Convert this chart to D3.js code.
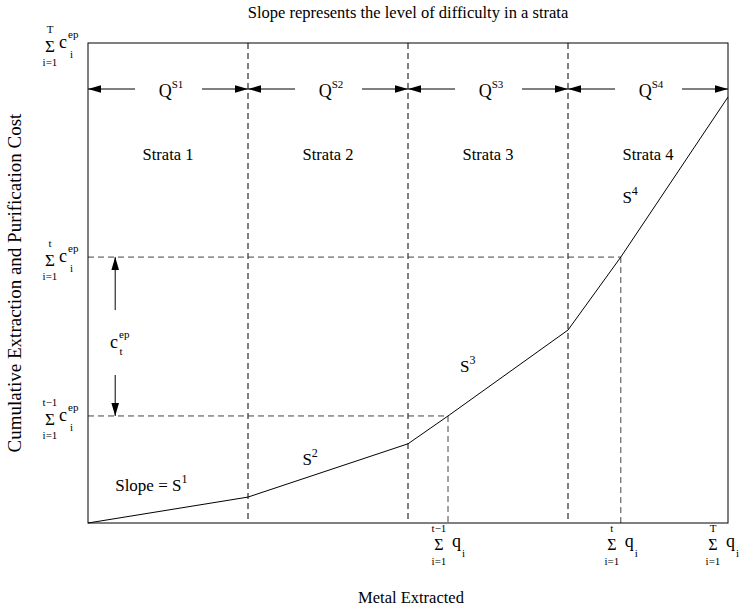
<!DOCTYPE html>
<html>
<head>
<script src="https://d3js.org/d3.v7.min.js"></script>
<title>Strata cost curve</title>
<style>
  body { margin: 0; background: #fff; }
  text { font-family: "Liberation Serif", "Times New Roman", serif; fill: #000; }
</style>
</head>
<body>
<div id="chart"></div>
<script>
// strata (x units = one stratum each)
var strataNames = ["Strata 1", "Strata 2", "Strata 3", "Strata 4"];
var strataBounds = [0, 1, 2, 3, 4];
var qSups = ["S1", "S2", "S3", "S4"];

// cumulative cost curve
var curveX = [0, 1, 2, 2.25, 3, 3.33, 4];
var curveY = [0, 5.4, 16.5, 22.3, 40.2, 55.4, 88.75];

// tick labels on both axes
var yTickVals = [100, 55.4, 22.3];
var yTickSups = ["T", "t", "t\u22121"];
var xTickVals = [2.25, 3.33, 4];
var xTickSups = ["t\u22121", "t", "T"];

// dashed guides: period t-1 and t (x, y)
var guideX = [2.25, 3.33];
var guideY = [22.3, 55.4];

// slope annotations (data coords)
var slopeX = [0.17, 1.34, 2.325, 3.34];
var slopeY = [6.7, 12.1, 31.5, 66.7];
var slopeText = ["Slope = S", "S", "S", "S"];
var slopeSup = ["1", "2", "3", "4"];

var W = 740, H = 612;
var svg = d3.select("#chart").append("svg")
    .attr("width", W)
    .attr("height", H);

var x = d3.scaleLinear().domain([0, 4]).range([88, 728]);
var y = d3.scaleLinear().domain([0, 100]).range([523, 43]);

function arrow(x1, y1, x2, y2) {
    svg.append("line")
        .attr("x1", x1).attr("y1", y1).attr("x2", x2).attr("y2", y2)
        .attr("stroke", "#000").attr("stroke-width", 1);
    var a = Math.atan2(y2 - y1, x2 - x1), L = 13, w = 3.8;
    var bx = x2 - L * Math.cos(a), by = y2 - L * Math.sin(a);
    var px = -Math.sin(a) * w, py = Math.cos(a) * w;
    svg.append("path")
        .attr("d", "M" + x2 + "," + y2 + "L" + (bx + px) + "," + (by + py) + "L" + (bx - px) + "," + (by - py) + "Z")
        .attr("fill", "#000");
}

function txt(px, py, s, size, anchor) {
    return svg.append("text")
        .attr("x", px).attr("y", py)
        .attr("font-size", size)
        .attr("text-anchor", anchor || "start")
        .text(s);
}

// one <text> holding several absolutely placed pieces
function stack(parts) {
    var t = svg.append("text");
    parts.forEach(function(p) {
        t.append("tspan")
            .attr("x", p[0]).attr("y", p[1])
            .attr("font-size", p[3])
            .attr("text-anchor", p[4] || "start")
            .text(p[2]);
    });
    return t;
}

// title and axis titles
txt(408, 18, "Slope represents the level of difficulty in a strata", 16.5, "middle");
txt(411, 603, "Metal Extracted", 16.5, "middle");
svg.append("text")
    .attr("transform", "translate(21,283) rotate(-90)")
    .attr("font-size", 19)
    .attr("text-anchor", "middle")
    .text("Cumulative Extraction and Purification Cost");

// strata separators
svg.selectAll(".sep").data(strataBounds.slice(1, 4)).enter()
    .append("line")
    .attr("x1", function(d) { return x(d); })
    .attr("x2", function(d) { return x(d); })
    .attr("y1", y(100)).attr("y2", y(0))
    .attr("stroke", "#000").attr("stroke-dasharray", "6,4");

// dashed guides for t-1 and t
guideX.forEach(function(xv, i) {
    var v = guideY[i];
    svg.append("line")
        .attr("x1", x(0)).attr("x2", x(xv))
        .attr("y1", y(v)).attr("y2", y(v))
        .attr("stroke", "#444").attr("stroke-dasharray", "6,4");
    svg.append("line")
        .attr("x1", x(xv)).attr("x2", x(xv))
        .attr("y1", y(v)).attr("y2", y(0))
        .attr("stroke", "#444").attr("stroke-dasharray", "6,4");
});

// frame
svg.append("rect")
    .attr("x", x(0)).attr("y", y(100))
    .attr("width", x(4) - x(0)).attr("height", y(0) - y(100))
    .attr("fill", "none").attr("stroke", "#000").attr("stroke-width", 1);

// curve
var line = d3.line()
    .x(function(d) { return x(d[0]); })
    .y(function(d) { return y(d[1]); });
svg.append("path")
    .datum(d3.zip(curveX, curveY))
    .attr("d", line)
    .attr("fill", "none").attr("stroke", "#000").attr("stroke-width", 1);

// Q arrows and strata names
strataNames.forEach(function(name, i) {
    var x0 = x(strataBounds[i]), x1 = x(strataBounds[i + 1]), cx = (x0 + x1) / 2;
    arrow(cx - 33, 89, x0, 89);
    arrow(cx + 34, 89, x1, 89);
    var t = svg.append("text").attr("x", cx + 3).attr("y", 97)
        .attr("font-size", 18).attr("text-anchor", "middle");
    t.append("tspan").text("Q");
    t.append("tspan").attr("font-size", 11).attr("dy", -9).text(qSups[i]);
    txt(cx, 160, name, 16.5, "middle");
});

// slope labels
slopeText.forEach(function(s, i) {
    var t = svg.append("text").attr("x", x(slopeX[i])).attr("y", y(slopeY[i]))
        .attr("font-size", 17);
    t.append("tspan").text(s);
    t.append("tspan").attr("font-size", 12).attr("dy", -8).text(slopeSup[i]);
});

// cost difference arrow c_t^ep
var ax = x(0.17);
arrow(ax, 310, ax, y(guideY[1]));
arrow(ax, 375, ax, y(guideY[0]));
stack([[110, 348, "c", 18], [119, 338, "ep", 11], [119.5, 355, "t", 11]]);

// y tick labels
yTickVals.forEach(function(v, i) {
    var ty = y(v);
    stack([
        [50, ty - 10, yTickSups[i], 11, "middle"],
        [50, ty + 9, "\u03a3", 17, "middle"],
        [50, ty + 23, "i=1", 11, "middle"],
        [59, ty + 5, "c", 18],
        [68, ty - 5, "ep", 11],
        [70, ty + 15, "i", 11]
    ]);
});

// x tick labels
xTickVals.forEach(function(v, i) {
    var tx = x(v);
    tx = tx + Math.min(0, 742 - (tx + 20));
    stack([
        [tx - 9, 532, xTickSups[i], 11, "middle"],
        [tx - 9, 550, "\u03a3", 16, "middle"],
        [tx - 9, 565, "i=1", 11, "middle"],
        [tx + 4, 547, "q", 18],
        [tx + 14, 557, "i", 11]
    ]);
});
</script>
</body>
</html>
